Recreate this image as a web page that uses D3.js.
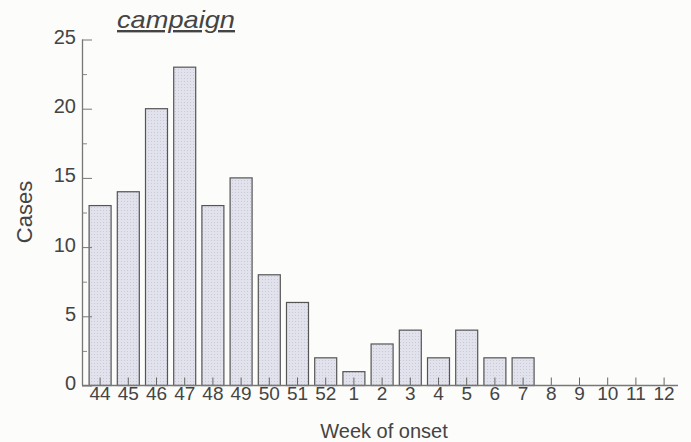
<!DOCTYPE html>
<html>
<head>
<meta charset="utf-8">
<script src="https://cdn.jsdelivr.net/npm/d3@7"></script>
<style>
  html, body { margin: 0; padding: 0; background: #fcfcfa; }
  svg { display: block; }
  text { font-family: "Liberation Sans", Arial, sans-serif; fill: #444; }
</style>
</head>
<body>
<div id="chart"></div>
<script>
"use strict";

// Week of onset (weeks 44-52 of one year, then 1-12 of the next)
var weeks = ["44", "45", "46", "47", "48", "49", "50", "51", "52",
             "1", "2", "3", "4", "5", "6", "7", "8", "9", "10", "11", "12"];
var cases = [13, 14, 20, 23, 13, 15, 8, 6, 2,
             1, 3, 4, 2, 4, 2, 2, 0, 0, 0, 0, 0];
var yTicks = [0, 5, 10, 15, 20, 25];
var yMinorTicks = [2.5, 7.5, 12.5, 17.5, 22.5];

var width = 691, height = 442,
    margin = {top: 39, right: 11, bottom: 57, left: 82},
    innerW = width - margin.left - margin.right,
    innerH = height - margin.top - margin.bottom;

var svg = d3.select("#chart").append("svg")
    .attr("width", width)
    .attr("height", height);

// Dotted fill, like the screen tone of the printed bars
var defs = svg.append("defs");
var pat = defs.append("pattern")
    .attr("id", "tone")
    .attr("patternUnits", "userSpaceOnUse")
    .attr("width", 3)
    .attr("height", 3);
pat.append("rect").attr("width", 3).attr("height", 3).attr("fill", "#e1e2ec");
pat.append("rect").attr("width", 1).attr("height", 1).attr("fill", "#c9cad9");

var g = svg.append("g")
    .attr("transform", "translate(" + margin.left + "," + margin.top + ")");

var xScale = d3.scaleBand()
    .domain(weeks)
    .range([4, 4 + 21 * 28.2])
    .paddingInner(0.22)
    .paddingOuter(0.11);

var yScale = d3.scaleLinear()
    .domain([0, 25])
    .range([innerH + 0.5, 0.5]);

// Bars
g.selectAll(".bar")
    .data(cases)
    .enter()
    .append("rect")
    .attr("class", "bar")
    .attr("x", function(d, i) { return xScale(weeks[i]); })
    .attr("y", function(d) { return yScale(d); })
    .attr("width", xScale.bandwidth())
    .attr("height", function(d) { return yScale(0) - yScale(d); })
    .attr("fill", "url(#tone)")
    .attr("stroke", "#555")
    .attr("stroke-width", 1.2)
    .style("display", function(d) { return d > 0 ? null : "none"; });

// Y axis, ticks pointing inward
var yAxis = d3.axisLeft(yScale)
    .tickValues(yTicks)
    .tickSize(-10)
    .tickPadding(6);
var yAxisG = g.append("g")
    .attr("class", "y axis")
    .call(yAxis);
yAxisG.select(".domain").remove();
yAxisG.selectAll("line").attr("stroke", "#777");
yAxisG.selectAll("text")
    .attr("x", -6)
    .attr("dy", "0.2em")
    .style("font-size", "20px");

var yMinor = d3.axisLeft(yScale)
    .tickValues(yMinorTicks)
    .tickSize(-5)
    .tickFormat("");
var yMinorG = g.append("g").call(yMinor);
yMinorG.select(".domain").remove();
yMinorG.selectAll("line").attr("stroke", "#888");

g.append("line")
    .attr("x1", 0.5).attr("x2", 0.5)
    .attr("y1", yScale(25)).attr("y2", yScale(0))
    .attr("stroke", "#777")
    .attr("stroke-width", 1.3);

// X axis, ticks pointing up into the bars
var xAxis = d3.axisBottom(xScale)
    .tickSize(-8)
    .tickPadding(1);
var xAxisG = g.append("g")
    .attr("class", "x axis")
    .attr("transform", "translate(0," + yScale(0) + ")")
    .call(xAxis);
xAxisG.select(".domain").remove();
xAxisG.selectAll("line").attr("stroke", "#666");
xAxisG.selectAll("text").style("font-size", "19px");

g.append("line")
    .attr("x1", 0).attr("x2", innerW - 2)
    .attr("y1", yScale(0)).attr("y2", yScale(0))
    .attr("stroke", "#777")
    .attr("stroke-width", 1.3);

// Axis titles
g.append("text")
    .attr("x", 302)
    .attr("y", innerH + 53)
    .attr("text-anchor", "middle")
    .style("font-size", "20px")
    .text("Week of onset");

svg.append("text")
    .attr("transform", "translate(32,212) rotate(-90)")
    .attr("text-anchor", "middle")
    .style("font-size", "22px")
    .text("Cases");

// Title
svg.append("text")
    .attr("x", 117)
    .attr("y", 28)
    .attr("textLength", 118)
    .attr("lengthAdjust", "spacingAndGlyphs")
    .style("font-size", "24px")
    .style("font-style", "italic")
    .style("text-decoration", "underline")
    .text("campaign");
</script>
</body>
</html>
